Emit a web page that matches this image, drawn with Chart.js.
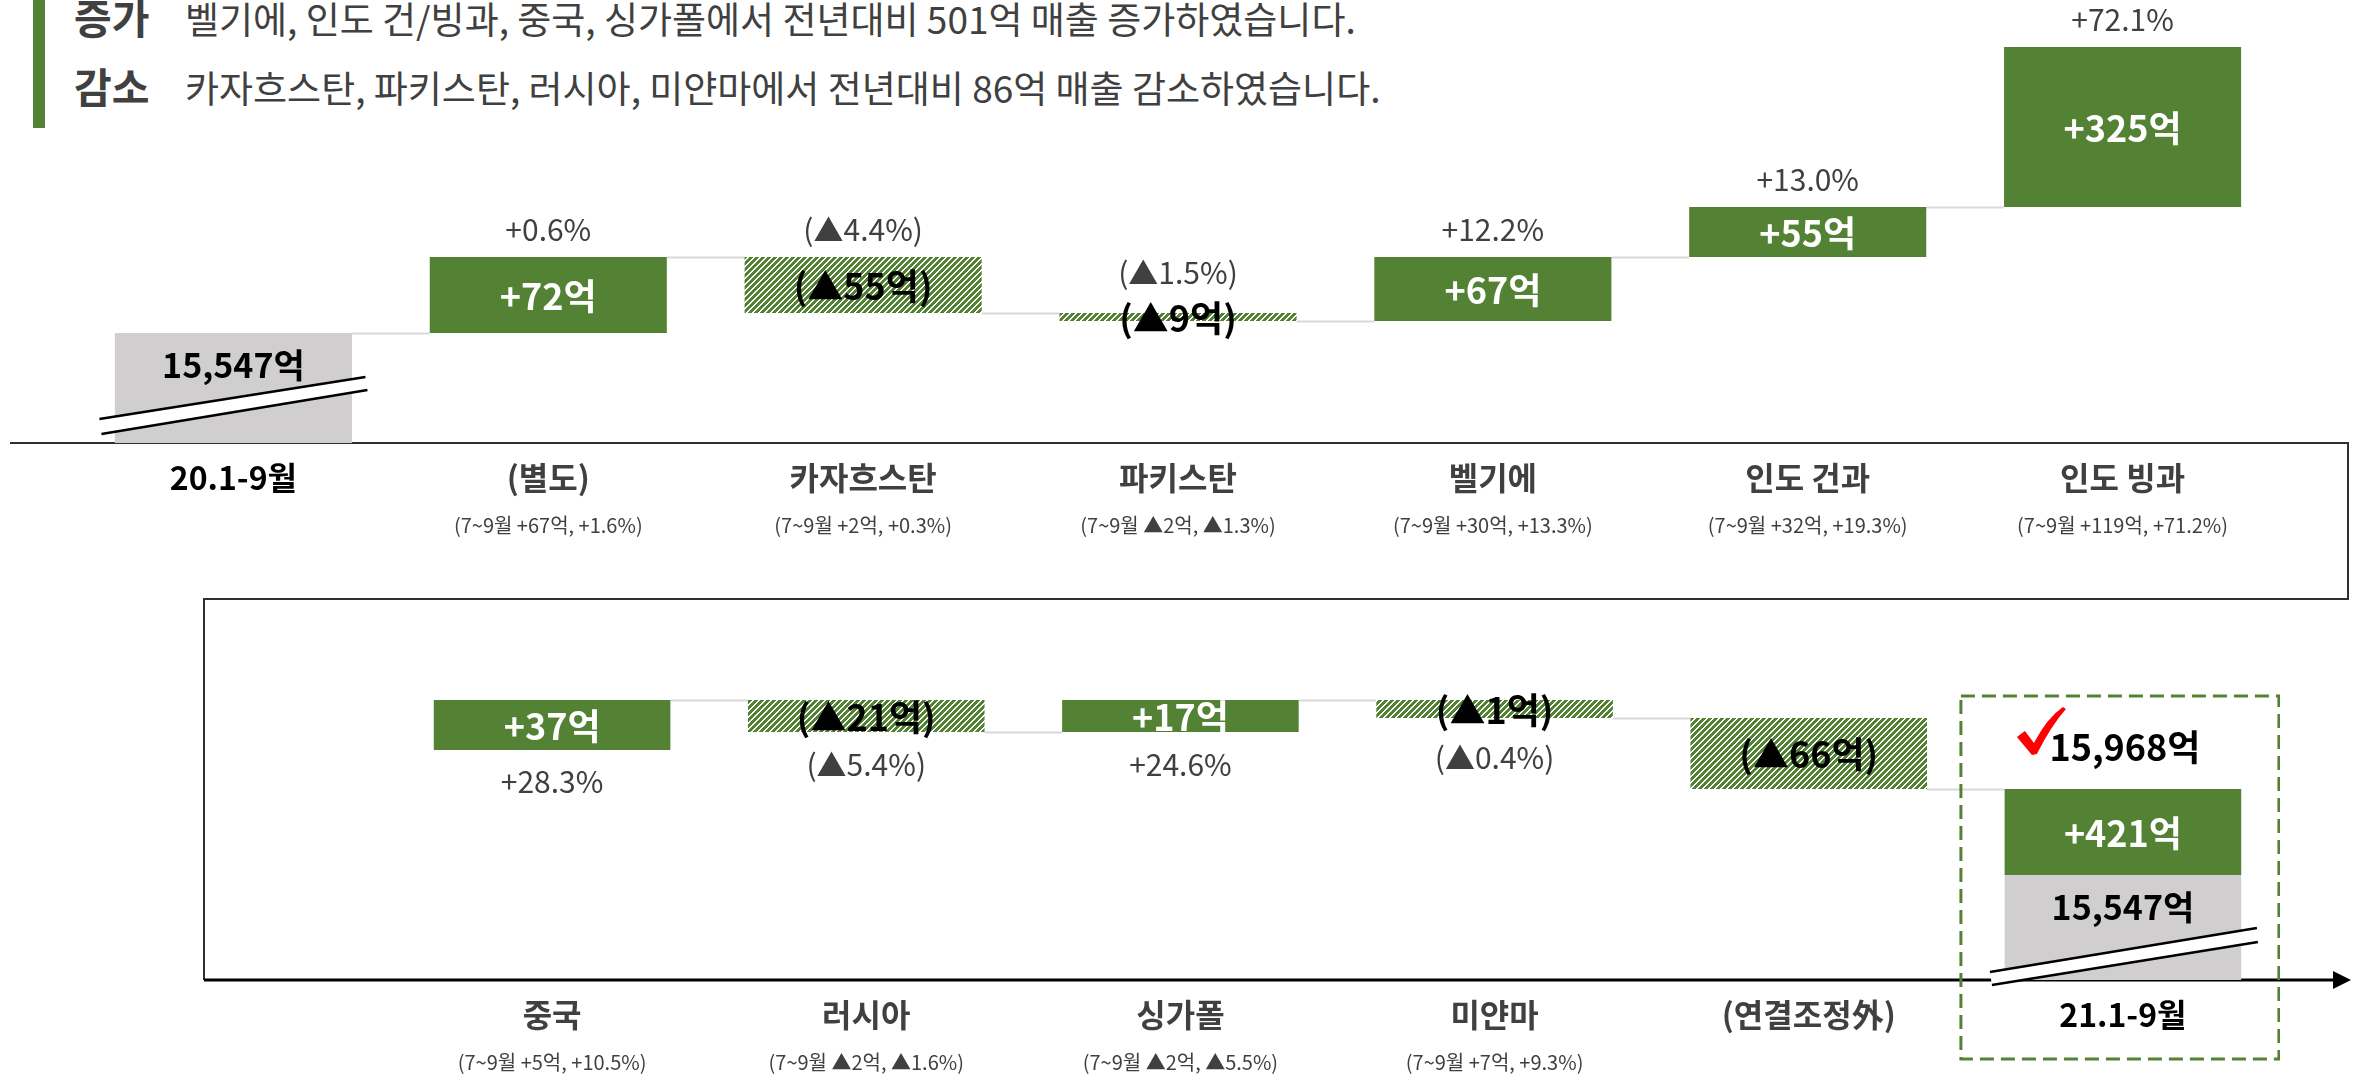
<!DOCTYPE html>
<html>
<head>
<meta charset="utf-8">
<script src="https://cdn.jsdelivr.net/npm/chart.js@4.4.0/dist/chart.umd.min.js"></script>
<style>
  body { margin: 0; width: 2369px; height: 1075px; background: #fff; position: relative; overflow: hidden; font-family: 'Noto Sans CJK KR', sans-serif; color: #404040; }
  .mark { position: absolute; left: 33px; top: 0; width: 12px; height: 128px; background: #548235; }
  .line { position: absolute; left: 74px; height: 44px; line-height: 44px; white-space: nowrap; }
  .line b { display: inline-block; width: 111px; font-size: 41px; }
  .line span { font-size: 37px; }
  svg { position: absolute; left: 0; top: 0; }
  canvas { position: absolute; }
</style>
</head>
<body>
<div class="mark"></div>
<div class="line" style="top:-6px"><b>증가</b><span>벨기에, 인도 건/빙과, 중국, 싱가폴에서 전년대비 501억 매출 증가하였습니다.</span></div>
<div class="line" style="top:63px"><b>감소</b><span>카자흐스탄, 파키스탄, 러시아, 미얀마에서 전년대비 86억 매출 감소하였습니다.</span></div>

<svg width="2369" height="1075">
  <polyline points="10,443 2348,443 2348,599 204,599 204,980" fill="none" stroke="#303030" stroke-width="2"/>
  <line x1="204" y1="980" x2="2336" y2="980" stroke="#000" stroke-width="3"/>
  <polygon points="2333,971 2351,980 2333,989" fill="#000"/>
</svg>

<canvas id="topChart" width="2204" height="560" style="left:76px;top:0"></canvas>
<canvas id="bottomChart" width="1885" height="538" style="left:395px;top:537px"></canvas>

<script>
const GREEN = '#548235';
const GRAY = '#d0cece';
const TEXT = '#404040';
const FONT = "'Noto Sans CJK KR', 'Noto Sans', sans-serif";

// 1st row: 20.1-9월 -> 인도 빙과
const topCategories = ['20.1-9월', '(별도)', '카자흐스탄', '파키스탄', '벨기에', '인도 건과', '인도 빙과'];
const topAmounts = [15547, 72, -55, -9, 67, 55, 325];
const topRates = [null, 0.6, -4.4, -1.5, 12.2, 13.0, 72.1];
const topQ3Amounts = [null, 67, 2, -2, 30, 32, 119];
const topQ3Rates = [null, 1.6, 0.3, -1.3, 13.3, 19.3, 71.2];
// running level after each bar, as drawn in the picture (not to scale with the amounts)
const topLevels = [110, 186, 130, 122, 186, 236, 396];

// 2nd row: 중국 -> 21.1-9월
const bottomCategories = ['중국', '러시아', '싱가폴', '미얀마', '(연결조정外)', '21.1-9월'];
const bottomAmounts = [37, -21, 17, -1, -66, 421];
const bottomRates = [28.3, -5.4, 24.6, -0.4, null, null];
const bottomQ3Amounts = [5, -2, -2, 7, null, null];
const bottomQ3Rates = [10.5, -1.6, -5.5, 9.3, null, null];
const bottomStart = 230;
const bottomLevels = [280, 248, 280, 262, 191, 191];
const bottomBaseLevel = 105;

const baseTotal = 15547;
const finalTotal = 15968;

function signed(v, d) {
  const s = d === undefined ? String(Math.abs(v)) : Math.abs(v).toFixed(d);
  return v < 0 ? `▲${s}` : `+${s}`;
}
const amountText = (v) => (v < 0 ? `(${signed(v)}억)` : `${signed(v)}억`);
const rateText = (v) => (v === null ? '' : (v < 0 ? `(${signed(v, 1)}%)` : `${signed(v, 1)}%`));
const noteText = (a, r) => (a === null ? '' : `(7~9월 ${signed(a)}억, ${signed(r, 1)}%)`);
const totalText = (v) => `${v.toLocaleString('en-US')}억`;

function hatch() {
  const c = document.createElement('canvas');
  c.width = 6; c.height = 6;
  const g = c.getContext('2d');
  const img = g.createImageData(6, 6);
  for (let y = 0; y < 6; y += 1) {
    for (let x = 0; x < 6; x += 1) {
      const on = (x + y) % 6 < 4;
      const k = (y * 6 + x) * 4;
      img.data[k] = on ? 0x54 : 255;
      img.data[k + 1] = on ? 0x82 : 255;
      img.data[k + 2] = on ? 0x35 : 255;
      img.data[k + 3] = 255;
    }
  }
  g.putImageData(img, 0, 0);
  return g.createPattern(c, 'repeat');
}
const HATCH = hatch();

function text(ctx, str, x, y, font, color) {
  ctx.font = font;
  ctx.fillStyle = color;
  ctx.textAlign = 'center';
  ctx.textBaseline = 'middle';
  ctx.fillText(str, x, y);
}

function barBox(el) {
  return { x: el.x, w: el.width, top: Math.min(el.y, el.base), bottom: Math.max(el.y, el.base) };
}

// connectors, break marks and all texts of one row
function rowDecor(cfg) {
  return {
    id: 'rowDecor',
    beforeDatasetsDraw(chart) {
      const { ctx } = chart;
      const y = chart.scales.y;
      const boxes = cfg.labels.map((l, i) => barBox(chart.getDatasetMeta(cfg.change[i] ? 1 : 0).data[i]));
      ctx.save();
      ctx.strokeStyle = '#d9d9d9';
      ctx.lineWidth = 2;
      for (let i = 0; i < boxes.length - 1; i += 1) {
        const py = Math.round(y.getPixelForValue(cfg.ends[i])) + 0.5;
        ctx.beginPath();
        ctx.moveTo(boxes[i].x + boxes[i].w / 2, py);
        ctx.lineTo(boxes[i + 1].x - boxes[i + 1].w / 2, py);
        ctx.stroke();
      }
      ctx.restore();
    },
    afterDatasetsDraw(chart) {
      const { ctx } = chart;
      const axisY = chart.scales.y.getPixelForValue(0);
      const baseMeta = chart.getDatasetMeta(0);
      const changeMeta = chart.getDatasetMeta(1);
      ctx.save();

      cfg.labels.forEach((label, i) => {
        const x = chart.scales.x.getPixelForValue(i);
        // base bar: break mark and total
        if (cfg.base[i]) {
          const b = barBox(baseMeta.data[i]);
          const [u1, u2, l1, l2] = cfg.breakMark;
          ctx.fillStyle = '#fff';
          ctx.beginPath();
          ctx.moveTo(x + u1[0], axisY + u1[1]);
          ctx.lineTo(x + u2[0], axisY + u2[1]);
          ctx.lineTo(x + l2[0], axisY + l2[1]);
          ctx.lineTo(x + l1[0], axisY + l1[1]);
          ctx.closePath();
          ctx.fill();
          ctx.strokeStyle = '#000';
          ctx.lineWidth = 2.5;
          ctx.beginPath();
          ctx.moveTo(x + u1[0], axisY + u1[1]);
          ctx.lineTo(x + u2[0], axisY + u2[1]);
          ctx.moveTo(x + l1[0], axisY + l1[1]);
          ctx.lineTo(x + l2[0], axisY + l2[1]);
          ctx.stroke();
          text(ctx, totalText(baseTotal), x, b.top + 32, `bold 34px ${FONT}`, '#000');
        }
        // change bar: amount and rate
        if (cfg.change[i]) {
          const b = barBox(changeMeta.data[i]);
          const cy = (b.top + b.bottom) / 2;
          const v = cfg.amounts[i];
          text(ctx, amountText(v), x, cy + 1, `bold 36px ${FONT}`, v < 0 ? '#000' : '#fff');
          const r = rateText(cfg.rates[i]);
          if (r) {
            const ry = cfg.rateSide === 'above'
              ? Math.min(b.top, cy - 17) - 27
              : Math.max(b.bottom, cy + 17) + 32;
            text(ctx, r, x, ry, `30px ${FONT}`, TEXT);
          }
        }
        text(ctx, label, x, axisY + 35, `bold 32px ${FONT}`, cfg.dark[i] ? '#000' : TEXT);
        if (cfg.notes[i]) text(ctx, cfg.notes[i], x, axisY + 82, `20px ${FONT}`, TEXT);
      });

      if (cfg.final !== undefined) {
        const i = cfg.final;
        const x = chart.scales.x.getPixelForValue(i);
        const b = barBox(changeMeta.data[i]);
        // highlight box
        ctx.strokeStyle = GREEN;
        ctx.lineWidth = 3;
        ctx.setLineDash([14, 7]);
        ctx.strokeRect(x - 162, b.top - 93, 318, axisY + 79 - (b.top - 93));
        ctx.setLineDash([]);
        text(ctx, totalText(finalTotal), x + 2, b.top - 42, `bold 36px ${FONT}`, '#000');
        // red check
        const cx = x - 106;
        const cy = b.top - 81;
        ctx.fillStyle = '#ff0000';
        ctx.beginPath();
        ctx.moveTo(cx, cy + 29);
        ctx.lineTo(cx + 8, cy + 23);
        ctx.lineTo(cx + 17, cy + 35);
        ctx.quadraticCurveTo(cx + 30, cy + 10, cx + 46, cy - 1);
        ctx.lineTo(cx + 49, cy + 1);
        ctx.quadraticCurveTo(cx + 34, cy + 18, cx + 20, cy + 46);
        ctx.lineTo(cx + 15, cy + 47);
        ctx.closePath();
        ctx.fill();
      }
      ctx.restore();
    },
  };
}

function makeChart(id, cfg, baseData, changeData, colors) {
  const canvas = document.getElementById(id);
  // eslint-disable-next-line no-undef, no-new
  new Chart(canvas, {
    type: 'bar',
    data: {
      labels: cfg.labels,
      datasets: [
        { data: baseData, backgroundColor: GRAY, grouped: false, barPercentage: 0.753, categoryPercentage: 1 },
        { data: changeData, backgroundColor: colors, grouped: false, barPercentage: 0.753, categoryPercentage: 1 },
      ],
    },
    options: {
      responsive: false,
      animation: false,
      devicePixelRatio: 1,
      layout: { padding: { left: 0, right: 0, top: 0, bottom: canvas.height - 443 } },
      plugins: { legend: { display: false }, tooltip: { enabled: false } },
      scales: {
        x: { display: false },
        y: { display: false, min: 0, max: 443 },
      },
    },
    plugins: [rowDecor(cfg)],
  });
}

// first row
const topBase = topCategories.map((c, i) => (i === 0 ? [0, topLevels[0]] : null));
const topChange = topCategories.map((c, i) => (i === 0 ? null : [topLevels[i - 1], topLevels[i]]));
makeChart('topChart', {
  labels: topCategories,
  amounts: topAmounts,
  rates: topRates,
  notes: topQ3Amounts.map((a, i) => noteText(a, topQ3Rates[i])),
  ends: topLevels,
  base: topBase,
  change: topChange,
  dark: topCategories.map((c, i) => i === 0),
  rateSide: 'above',
  breakMark: [[-134, -24], [132, -66], [-132, -9], [134, -53]],
}, topBase, topChange, topAmounts.map((v) => (v < 0 ? HATCH : GREEN)));

// second row
const last = bottomCategories.length - 1;
const bottomBase = bottomCategories.map((c, i) => (i === last ? [0, bottomBaseLevel] : null));
const bottomChange = bottomCategories.map((c, i) => {
  if (i === last) return [bottomBaseLevel, bottomLevels[i]];
  return [i === 0 ? bottomStart : bottomLevels[i - 1], bottomLevels[i]];
});
makeChart('bottomChart', {
  labels: bottomCategories,
  amounts: bottomAmounts,
  rates: bottomRates,
  notes: bottomQ3Amounts.map((a, i) => noteText(a, bottomQ3Rates[i])),
  ends: bottomLevels,
  base: bottomBase,
  change: bottomChange,
  dark: bottomCategories.map((c, i) => i === last),
  rateSide: 'below',
  final: last,
  breakMark: [[-133, -8], [134, -52], [-131, 5], [135, -38]],
}, bottomBase, bottomChange, bottomAmounts.map((v) => (v < 0 ? HATCH : GREEN)));
</script>
</body>
</html>
